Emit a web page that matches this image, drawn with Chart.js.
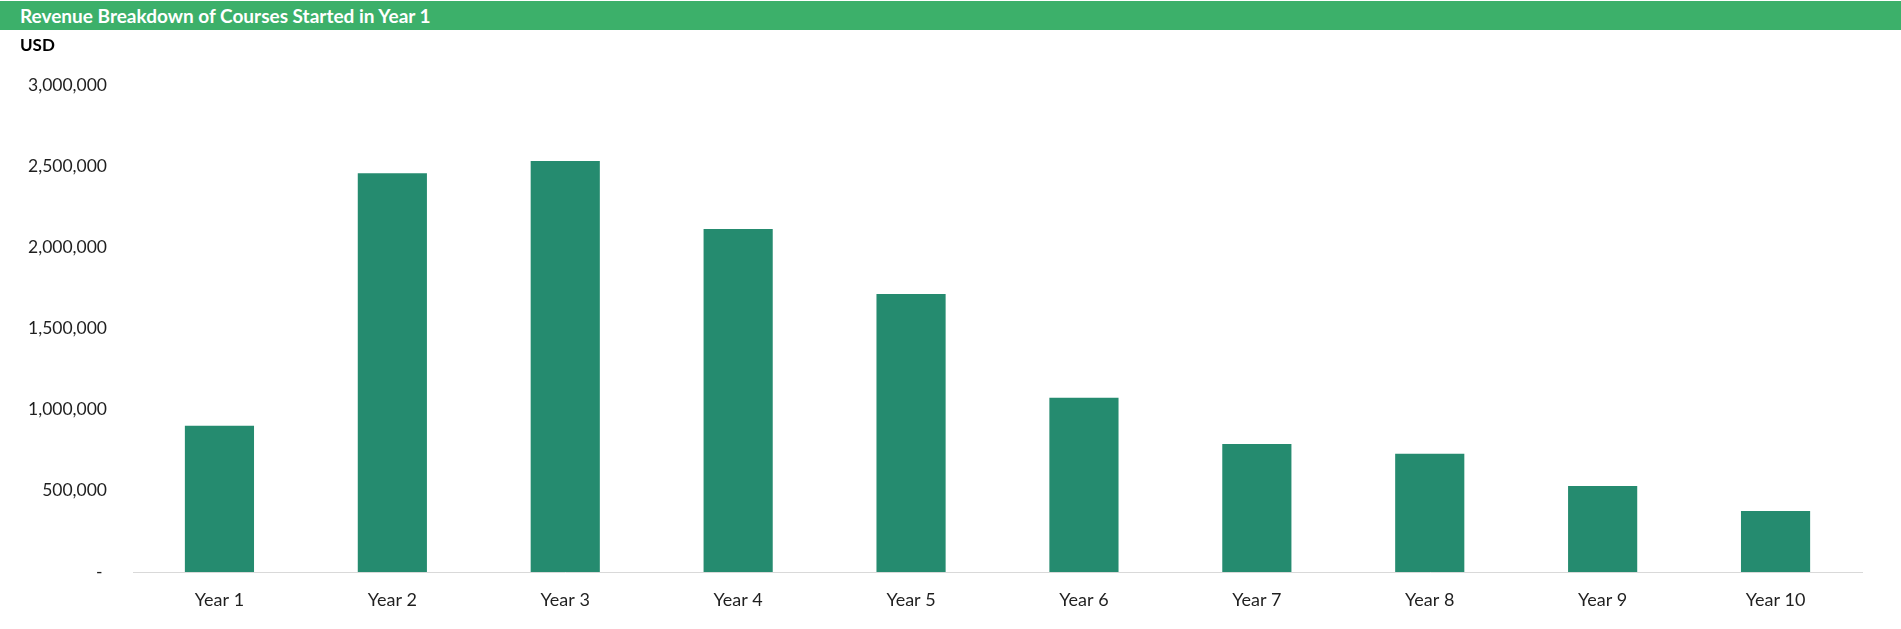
<!DOCTYPE html>
<html>
<head>
<meta charset="utf-8">
<script src="https://cdn.jsdelivr.net/npm/chart.js@4.4.1/dist/chart.umd.min.js"></script>
<style>
  html, body { margin: 0; padding: 0; background: #fff; }
  body { width: 1901px; height: 629px; position: relative; overflow: hidden; font-family: Lato, "Open Sans", sans-serif; }
  #header {
    position: absolute; left: 0; top: 1px; width: 1901px; height: 29px;
    background: #3cb06a; color: #fff; font-weight: bold; font-size: 19px;
    line-height: 29px; padding-left: 20px; box-sizing: border-box;
  }
  #unit { position: absolute; left: 20px; top: 34px; font-weight: bold; font-size: 17px; color: #000; }
  #wrap { position: absolute; left: 0; top: 0; width: 1901px; height: 629px; }
</style>
</head>
<body>
<div id="wrap"><canvas id="chart"></canvas></div>
<div id="header">Revenue Breakdown of Courses Started in Year 1</div>
<div id="unit">USD</div>
<script>
const categories = ["Year 1", "Year 2", "Year 3", "Year 4", "Year 5", "Year 6", "Year 7", "Year 8", "Year 9", "Year 10"];
const revenue = [901000, 2456000, 2532000, 2113000, 1713000, 1074000, 789000, 729000, 530000, 376000];
const yTicks = [0, 500000, 1000000, 1500000, 2000000, 2500000, 3000000];

const ctx = document.getElementById("chart");

new Chart(ctx, {
  type: "bar",
  data: {
    labels: categories,
    datasets: [
      {
        label: "Revenue",
        data: revenue,
        backgroundColor: "#258b6f",
        barPercentage: 0.4,
        categoryPercentage: 1.0
      }
    ]
  },
  options: {
    responsive: true,
    maintainAspectRatio: false,
    animation: false,
    layout: { padding: { top: 85, right: 39, bottom: 0, left: 0 } },
    plugins: { legend: { display: false }, tooltip: { enabled: false } },
    scales: {
      x: {
        grid: { display: false, drawTicks: false },
        border: { display: true, color: "#d9d9d9", width: 1 },
        ticks: { color: "#1f1f1f", font: { family: "Lato", size: 18 }, padding: 17 },
        afterFit: s => { s.height = 57; }
      },
      y: {
        min: 0,
        max: 3000000,
        grid: { display: false, drawTicks: false },
        border: { display: false },
        afterBuildTicks: s => { s.ticks = yTicks.map(v => ({ value: v })); },
        afterFit: s => { s.width = 133; },
        ticks: {
          color: "#1f1f1f",
          font: { family: "Lato", size: 17.5 },
          padding: 26,
          // Excel accounting style: zero shown as a dash
          callback: v => (v === 0 ? "- " : v.toLocaleString("en-US"))
        }
      }
    }
  }
});
</script>
</body>
</html>
